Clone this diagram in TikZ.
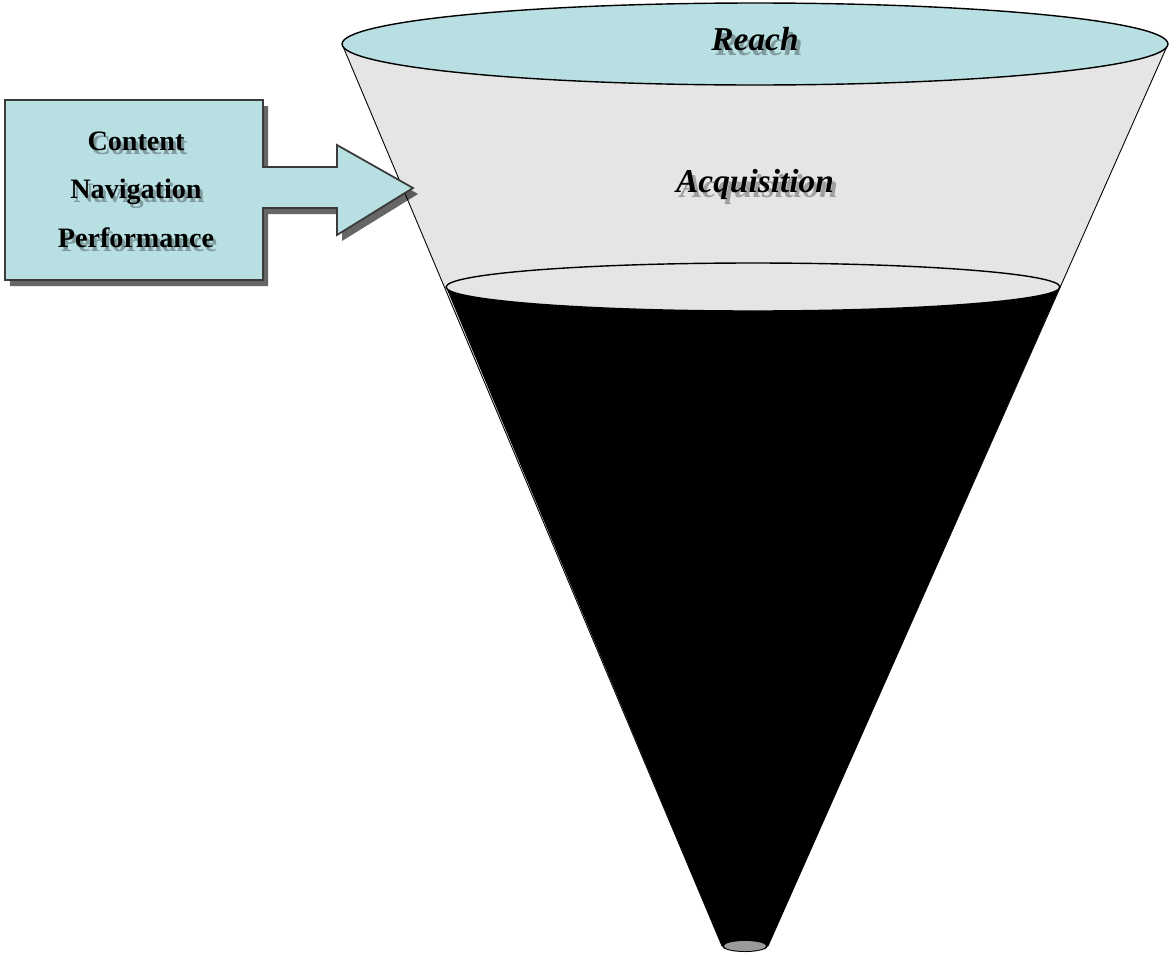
\documentclass[tikz,border=0pt]{standalone}
\usepackage{fontspec}
\setmainfont{Liberation Serif}
\usetikzlibrary{shadows}
\definecolor{capblue}{HTML}{B8DFE2}
\definecolor{conegray}{HTML}{E5E5E5}
\definecolor{tipgray}{HTML}{9A9A9A}
\definecolor{edgegray}{HTML}{3A3A3A}
\tikzset{
  funneltext/.style={font=\fontsize{19}{22}\selectfont\bfseries\itshape, anchor=base, inner sep=0pt},
  boxtext/.style={font=\fontsize{16}{19}\selectfont\bfseries, anchor=base, inner sep=0pt},
  textshade/.style={text=black, opacity=0.3},
  sideline/.style={draw=black, line width=0.5pt},
  rimline/.style={draw=black, line width=0.8pt}
}
\begin{document}
\begin{tikzpicture}[x=0.02cm,y=0.02cm]
\useasboundingbox (0,0) rectangle (1172,-957);
% cone body (grey)
\fill[conegray] (342,-44) -- (722,-946) -- (768,-946) -- (1168,-44) -- cycle;
% black lower part
\fill[black] (446,-287) arc[start angle=180,end angle=360,x radius=6.14cm,y radius=0.48cm]
  -- (768,-946) arc[start angle=0,end angle=-180,x radius=0.46cm,y radius=0.12cm] -- cycle;
% side lines
\draw[sideline] (342,-44) -- (722,-946);
\draw[sideline] (1168,-44) -- (768,-946);
% middle rim
\draw[rimline, fill=conegray] (753,-287) ellipse[x radius=6.14cm, y radius=0.48cm];
% top rim
\draw[rimline, fill=capblue] (755,-44) ellipse[x radius=8.26cm, y radius=0.82cm];
% tip
\fill[tipgray] (745,-946) ellipse[x radius=0.42cm, y radius=0.1cm];
% labels
\node[funneltext, textshade] at (759,-55) {Reach};
\node[funneltext] (reach) at (755,-50) {Reach};
\node[funneltext, textshade] at (759,-197) {Acquisition};
\node[funneltext] (acq) at (755,-192) {Acquisition};
% box with arrow
\path[fill=capblue, draw=edgegray, line width=1pt,
  drop shadow={shadow xshift=0.1cm, shadow yshift=-0.12cm, opacity=0.6, fill=black}]
  (5,-100) -- (263,-100) -- (263,-167) -- (337,-167) -- (337,-145) -- (413,-188)
  -- (337,-235) -- (337,-208) -- (263,-208) -- (263,-280) -- (5,-280) -- cycle;
\node[boxtext, textshade] at (139,-154) {Content};
\node[boxtext] (c1) at (136,-150) {Content};
\node[boxtext, textshade] at (139,-202) {Navigation};
\node[boxtext] (c2) at (136,-198) {Navigation};
\node[boxtext, textshade] at (139,-251) {Performance};
\node[boxtext] (c3) at (136,-247) {Performance};
\end{tikzpicture}
\end{document}
